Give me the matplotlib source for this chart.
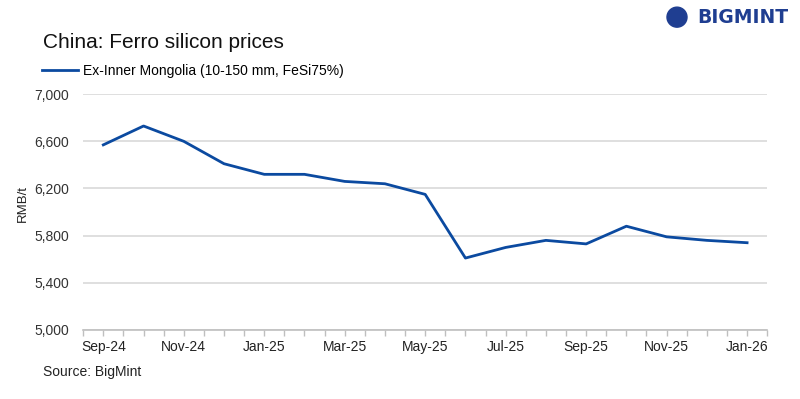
import matplotlib.pyplot as plt
from matplotlib.patches import Circle

months = ['Sep-24', 'Oct-24', 'Nov-24', 'Dec-24', 'Jan-25', 'Feb-25', 'Mar-25', 'Apr-25', 'May-25',
          'Jun-25', 'Jul-25', 'Aug-25', 'Sep-25', 'Oct-25', 'Nov-25', 'Dec-25', 'Jan-26']
prices = [6570, 6730, 6600, 6410, 6320, 6320, 6260, 6240, 6150,
          5610, 5700, 5760, 5730, 5880, 5790, 5760, 5740]
yticks = [5000, 5400, 5800, 6200, 6600, 7000]

plt.rcParams['font.family'] = ['Liberation Sans', 'DejaVu Sans']

fig = plt.figure(figsize=(8, 3.99), dpi=100)
ax = fig.add_axes([0.104, 0.173, 0.855, 0.591])

x = list(range(len(months)))
ax.plot(x, prices, color='#0b4aa0', lw=2.0, solid_joinstyle='round',
        label='Ex-Inner Mongolia (10-150 mm, FeSi75%)')

ax.set_xlim(-0.5, len(months) - 0.5)
ax.set_ylim(5000, 7000)
ax.set_yticks(yticks)
ax.set_yticklabels([f'{v:,}' for v in yticks], fontsize=10, color='#333333')
ax.set_xticks(x[::2])
ax.set_xticklabels(months[::2], fontsize=10, color='#222222')
ax.set_xticks([i - 0.5 for i in range(len(months) + 1)] + x[1::2], minor=True)
ax.tick_params(axis='x', which='both', length=4, color='#bfbfbf', width=1, direction='out')
ax.tick_params(axis='x', which='major', pad=3)
ax.tick_params(axis='y', length=0, pad=10)
ax.grid(axis='y', color='#d9d9d9', lw=1.2)
ax.set_axisbelow(True)
for s in ['top', 'right', 'left']:
    ax.spines[s].set_visible(False)
ax.spines['bottom'].set_color('#bfbfbf')
ax.spines['bottom'].set_linewidth(1.2)

# y axis title
fig.text(0.028, 0.49, 'RMB/t', fontsize=9.5, color='#222222', rotation=90, ha='center', va='center')

fig.text(0.054, 0.893, 'China: Ferro silicon prices', fontsize=15, color='#111111', va='center')
fig.legend(loc='center left', bbox_to_anchor=(0.045, 0.823), frameon=False, fontsize=10,
           handlelength=2.6, handletextpad=0.4, borderaxespad=0)
fig.text(0.054, 0.068, 'Source: BigMint', fontsize=10, color='#222222', va='center')

# logo
logo = Circle((677, 0.957 * 399), 10, transform=None, color='#1f3e91')
fig.patches.append(logo)
fig.text(697 / 800, 0.955, 'BIGMINT', fontsize=13.5, fontweight='bold',
         color='#1f3e91', va='center', ha='left', family='DejaVu Sans')

fig.savefig('out.png', dpi=100)
